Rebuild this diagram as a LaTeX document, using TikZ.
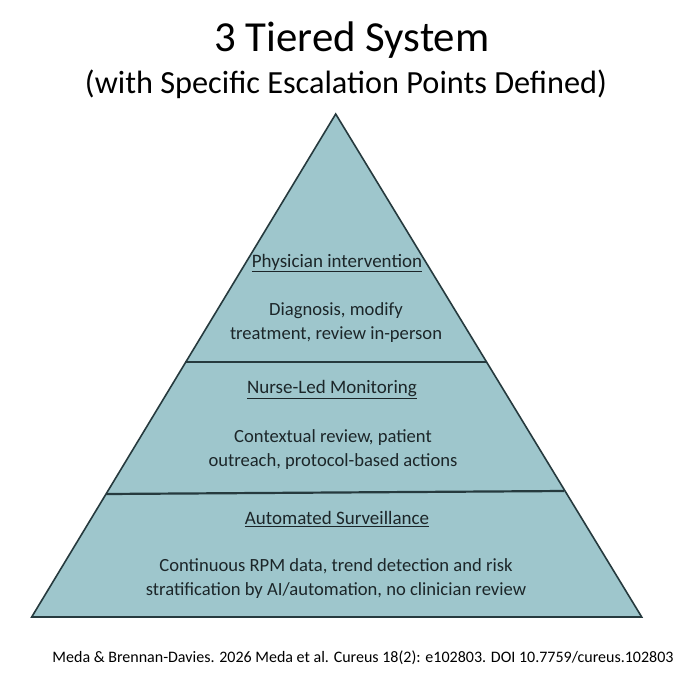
\documentclass[tikz,border=0pt]{standalone}
\usepackage{fontspec}
\setmainfont{Carlito}
\definecolor{pyrfill}{RGB}{158,198,204}
\definecolor{pyredge}{RGB}{38,58,62}
\definecolor{pyrtext}{RGB}{28,38,41}
\tikzset{
  head/.style={font=\fontsize{19}{24}\selectfont, text=pyrtext, inner sep=0pt},
  body/.style={font=\fontsize{18.6}{24.5}\selectfont, text=pyrtext, align=center, inner sep=0pt},
  divider/.style={draw=pyredge, line width=2.2pt},
}
\begin{document}
\begin{tikzpicture}[x=1pt,y=-1pt]
\useasboundingbox[fill=white] (0,0) rectangle (695,690);
\coordinate (apex) at (335.7,114);
\coordinate (bl) at (31.7,617);
\coordinate (br) at (641.7,617);
\fill[pyrfill] (apex) -- (br) -- (bl) -- cycle;
\draw[pyredge, line width=1.6pt, line join=miter] (apex) -- (br) -- (bl) -- cycle;
\draw[divider] (185.3,362) -- (486,362);
\draw[divider] (106,494) -- (564,491);
\node (title) at (352,40) {\fontsize{42.8}{48}\selectfont 3 Tiered System};
\node (subtitle) at (346,84) {\fontsize{32.3}{38}\selectfont (with Specific Escalation Points Defined)};
\node[head] (h1) at (337,263) {\underline{Physician intervention}};
\node[body] (b1) at (336,322.5) {Diagnosis, modify\\treatment, review in-person};
\node[head] (h2) at (332,390) {\underline{Nurse-Led Monitoring}};
\node[body] (b2) at (333,449.5) {Contextual review, patient\\outreach, protocol-based actions};
\node[head] (h3) at (337,519) {\underline{Automated Surveillance}};
\node[body] (b3) at (336,578.5) {Continuous RPM data, trend detection and risk\\stratification by AI/automation, no clinician review};
\node (cite) at (363,658) {\fontsize{16}{19}\selectfont Meda \& Brennan-Davies. 2026 Meda et al. Cureus 18(2): e102803. DOI 10.7759/cureus.102803};
\end{tikzpicture}
\end{document}
